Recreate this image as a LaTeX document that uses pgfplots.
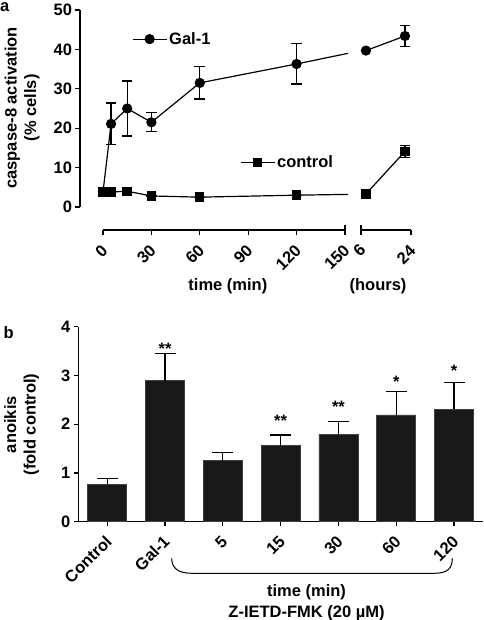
\documentclass[border=0pt]{standalone}
\usepackage{fontspec}
\setmainfont{Liberation Sans}
\usepackage{pgfplots}
\pgfplotsset{compat=1.18}
\begin{document}
\begin{tikzpicture}[font=\fontsize{16.5}{19.5}\selectfont\bfseries]
\useasboundingbox (0pt,0pt) rectangle (483pt,620pt);
\pgfplotsset{
  every axis/.append style={scale only axis, anchor=south west,
    /pgf/number format/assume math mode=true,
    axis line style={line width=1.3pt, black},
    tick style={line width=1.3pt, black},
    tick align=outside, major tick length=4.5pt, clip=false},
  ser/.style={black, line width=1.2pt, mark options={solid, fill=black, line width=1pt}},
  errs/.style={error bars/.cd, y dir=both, y explicit,
    error bar style={line width=1.2pt, black},
    error mark options={rotate=90, line width=1.2pt, mark size=5.3pt, black}, /pgfplots/.cd},
  leg/.style={legend style={draw=none, fill=none, inner sep=0pt, outer sep=0pt,
      at={#1}, anchor=west, nodes={inner sep=2pt}},
    legend image code/.code={\draw[mark repeat=2, mark phase=2, ##1] plot coordinates {(0pt,0pt) (17pt,0pt) (34pt,0pt)};}},
  rotlab/.style={xticklabel style={xshift=4pt, yshift=-10pt, rotate=45, anchor=east}},
}
% panel labels
\node[anchor=base west, inner sep=0pt] at (0pt,608.3pt) {a};
\node[anchor=base west, inner sep=0pt] at (3.3pt,281.7pt) {b};

% ---------- panel a : control (with y axis) ----------
\begin{axis}[at={(80pt,413pt)}, width=331pt, height=197pt,
  xmin=-14.26, xmax=190.95, ymin=0, ymax=50,
  axis x line=none, axis y line*=left,
  ytick={0,10,20,30,40,50},
  ylabel={caspase-8 activation\\(\% cells)},
  ylabel style={align=center, at={(axis description cs:-0.175,0.503)}, anchor=center},
  leg={(axis cs:84.9,11.24)}]
\addplot[ser, mark=square*, mark size=4.2pt, errs] coordinates {
  (0,3.8) +- (0,0) (5,3.8) +- (0,0) (15,4.0) +- (0,0) (30,2.8) +- (0,0)
  (60,2.5) +- (0,0) (120,3.0) +- (0,0)};
\addlegendentry{control}
\addplot[ser, forget plot] coordinates {(120,3.0) (151.9,3.2)};
\addplot[ser, forget plot, mark=square*, mark size=4.2pt, errs] coordinates {
  (163.0,3.3) +- (0,0) (187.2,14.1) +- (0,1.5)};
\end{axis}

% ---------- panel a : Gal-1 ----------
\begin{axis}[at={(80pt,413pt)}, width=331pt, height=197pt,
  xmin=-14.26, xmax=190.95, ymin=0, ymax=50,
  axis x line=none, axis y line=none,
  leg={(axis cs:18,42.6)}]
\addplot[ser, mark=*, mark size=4.6pt, errs] coordinates {
  (0,3.8) +- (0,0) (5,21.1) +- (0,5.3) (15,25.0) +- (0,7.0) (30,21.5) +- (0,2.4)
  (60,31.5) +- (0,4.1) (120,36.3) +- (0,5.1)};
\addlegendentry{Gal-1}
\addplot[ser, forget plot] coordinates {(120,36.3) (151.9,39.0)};
\addplot[ser, forget plot, mark=*, mark size=4.6pt, errs] coordinates {
  (163.0,39.7) +- (0,0) (187.2,43.4) +- (0,2.6)};
\end{axis}

% ---------- panel a : broken time axis ----------
\begin{axis}[at={(103pt,390pt)}, width=242pt, height=10pt,
  xmin=0, xmax=150, ymin=0, ymax=1,
  axis x line*=bottom, axis y line=none,
  xtick={0,30,60,90,120}, extra x ticks={150},
  extra x tick style={tick align=center, major tick length=10pt},
  major tick length=5.5pt, rotlab,
  xlabel={time (min)},
  xlabel style={at={(axis description cs:0.516,0)}, anchor=center, yshift=-56pt}]
\end{axis}
\begin{axis}[at={(361pt,390pt)}, width=50pt, height=10pt,
  xmin=6, xmax=24, ymin=0, ymax=1,
  axis x line*=bottom, axis y line=none,
  xtick={24}, extra x ticks={6},
  extra x tick style={tick align=center, major tick length=10pt},
  major tick length=5.5pt, rotlab,
  xlabel={(hours)},
  xlabel style={at={(axis description cs:0.34,0)}, anchor=center, yshift=-56pt}]
\end{axis}

% ---------- panel b ----------
\begin{axis}[at={(78.3pt,98.3pt)}, width=404.7pt, height=195pt,
  xmin=-0.5, xmax=6.5, ymin=0, ymax=4,
  axis x line*=bottom, axis y line*=left,
  ybar, bar width=39pt,
  xtick={0,1,2,3,4,5,6},
  xticklabels={Control,Gal-1,5,15,30,60,120},
  rotlab,
  ytick={0,1,2,3,4},
  ylabel={anoikis\\(fold control)},
  ylabel style={align=center, at={(axis description cs:-0.14,0.498)}, anchor=center},
  xlabel={time (min)\\Z-IETD-FMK (20 µM)},
  xlabel style={align=center, at={(axis description cs:0.564,0)}, anchor=center, yshift=-81pt, font=\fontsize{16.5}{20.7}\selectfont\bfseries}]
\addplot[fill=black!90, draw=black!75, line width=0.8pt,
  error bars/.cd, y dir=plus, y explicit,
  error bar style={line width=1.2pt, black},
  error mark options={rotate=90, line width=1.2pt, mark size=10.5pt, black}] coordinates {
  (0,0.77) +- (0,0.12) (1,2.89) +- (0,0.56) (2,1.25) +- (0,0.17)
  (3,1.56) +- (0,0.22) (4,1.79) +- (0,0.26) (5,2.19) +- (0,0.48)
  (6,2.31) +- (0,0.55)};
\node[anchor=center, yshift=-3.5pt] at (axis cs:1,3.62) {**};
\node[anchor=center, yshift=-3.5pt] at (axis cs:3,2.14) {**};
\node[anchor=center, yshift=-3.5pt] at (axis cs:4,2.43) {**};
\node[anchor=center, yshift=-3.5pt] at (axis cs:5,2.94) {*};
\node[anchor=center, yshift=-3.5pt] at (axis cs:6,3.17) {*};
\end{axis}
% brace under the inhibitor time points
\draw[line width=1pt] (171.7pt,61.7pt) .. controls (171.7pt,52pt) and (178pt,46.7pt) .. (192pt,46.7pt)
  -- (434pt,46.7pt) .. controls (448pt,46.7pt) and (452.3pt,52pt) .. (452.3pt,61.7pt);
\end{tikzpicture}
\end{document}
